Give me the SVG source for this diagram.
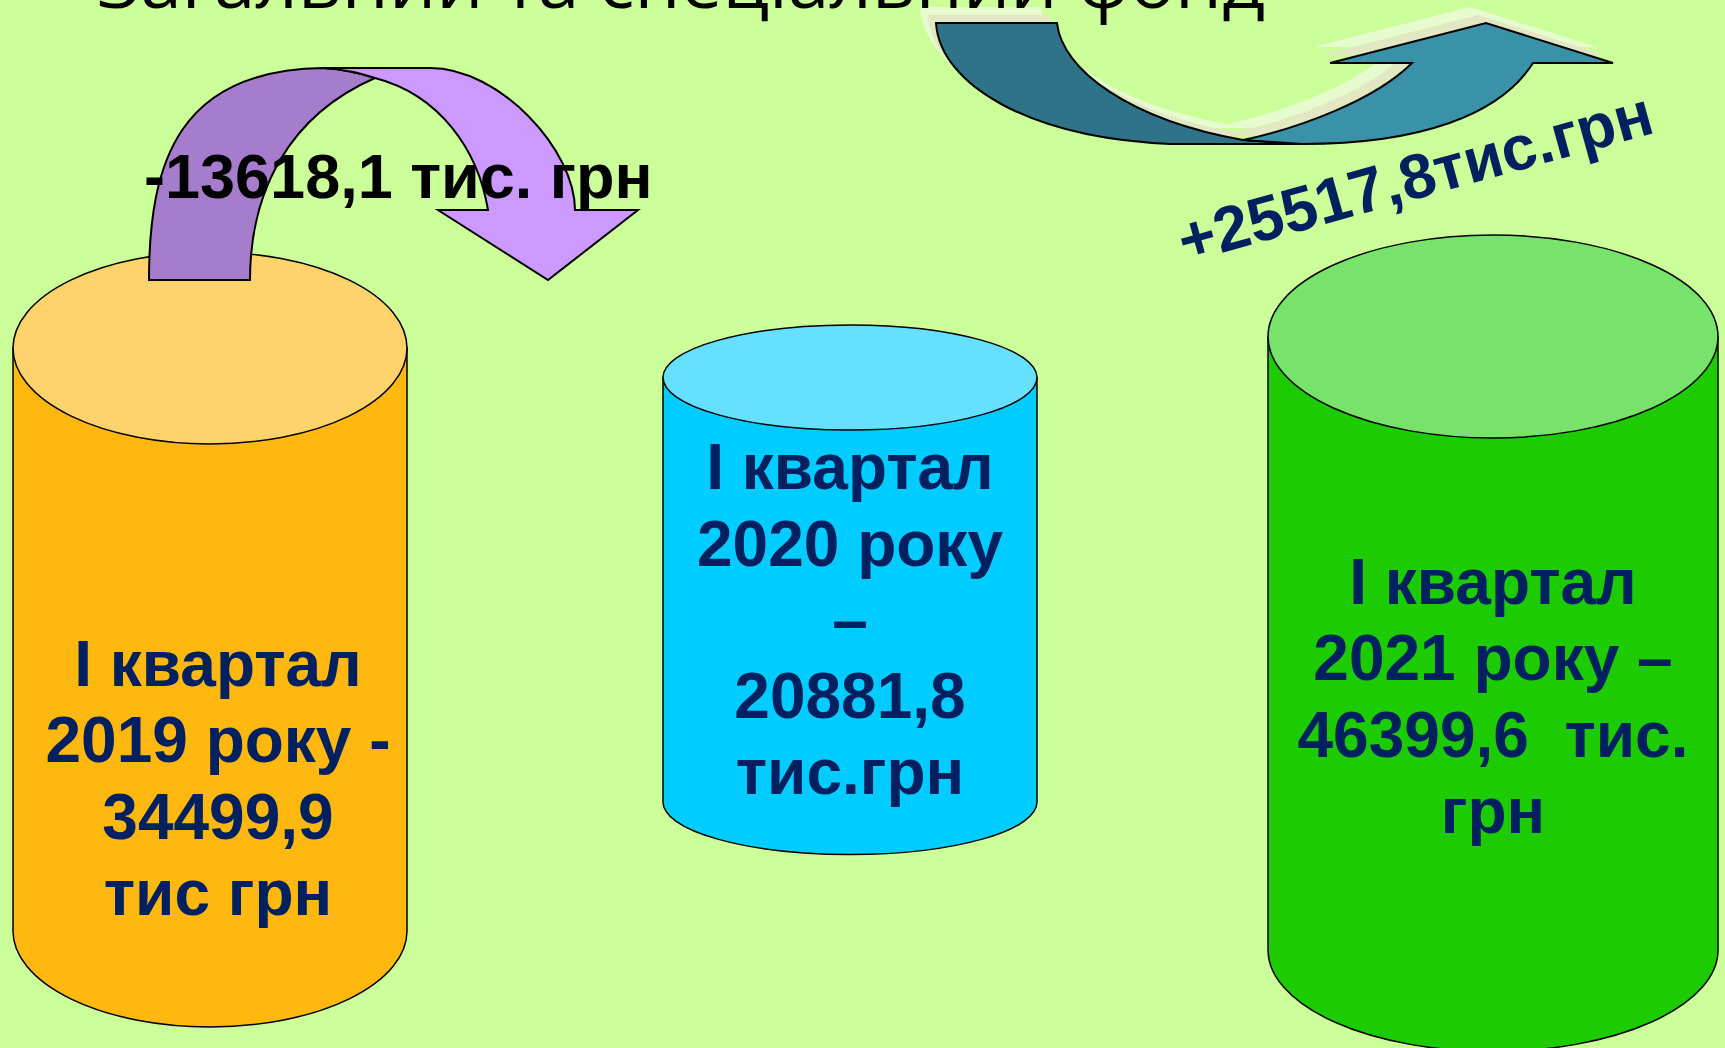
<svg xmlns="http://www.w3.org/2000/svg" width="1725" height="1048" viewBox="0 0 1725 1048">
<style>
.cyl{stroke:#000;stroke-width:1.5}
.arr{stroke:#000;stroke-width:2;stroke-linejoin:miter}
.lbl{font-family:"Liberation Sans",Arial,sans-serif;font-weight:bold;font-size:64px;fill:#002060;text-anchor:middle;white-space:pre}
.title{font-family:"Open Sans","Noto Sans",sans-serif;font-size:72px;fill:#000}
.delta{font-family:"Liberation Sans",Arial,sans-serif;font-weight:bold;font-size:63px}
</style>
<defs>
<path id="tealBack" d="M936,23 L1057,23 C1062,70 1130,120 1243,140 L1302,144 L1170,144 C1030,138 940,85 936,23 Z"/>
<path id="tealFront" d="M1243,140 C1300,128 1375,100 1412,63 L1330,63 L1486,23 L1613,63 L1533,63 C1500,115 1420,144 1302,144 Z"/>
</defs>
<rect width="1725" height="1048" fill="#CCFF99"/>

<g id="node-2019">
<path class="cyl" fill="#FFB80F" d="M13,348 L13,931 A197,96 0 0 0 407,931 L407,348 Z"/>
<ellipse class="cyl" fill="#FFD36B" cx="210" cy="348" rx="197" ry="96"/>
<text class="lbl" x="218" y="686">І квартал</text>
<text class="lbl" x="218" y="762">2019 року -</text>
<text class="lbl" x="218" y="839">34499,9</text>
<text class="lbl" x="218" y="915">тис грн</text>
</g>

<g id="node-2020">
<path class="cyl" fill="#00CCFF" d="M663,377.5 L663,802 A187,52.5 0 0 0 1037,802 L1037,377.5 Z"/>
<ellipse class="cyl" fill="#66E0FF" cx="850" cy="377.5" rx="187" ry="52.5"/>
<text class="lbl" x="850" y="489">І квартал</text>
<text class="lbl" x="850" y="566">2020 року</text>
<text class="lbl" x="850" y="642">–</text>
<text class="lbl" x="850" y="718">20881,8</text>
<text class="lbl" x="850" y="794">тис.грн</text>
</g>

<g id="node-2021">
<path class="cyl" fill="#1CCC00" d="M1268,336.5 L1268,950 A225,101.5 0 0 0 1718,950 L1718,336.5 Z"/>
<ellipse class="cyl" fill="#77E36B" cx="1493" cy="336.5" rx="225" ry="101.5"/>
<text class="lbl" x="1493" y="604">І квартал</text>
<text class="lbl" x="1493" y="680">2021 року –</text>
<text class="lbl" x="1493" y="757">46399,6  тис.</text>
<text class="lbl" x="1493" y="833">грн</text>
</g>

<g id="connectors">
<g id="arrow-decrease">
<path class="arr" fill="#A57DCC" d="M149,280 C149,160 180,70 323,68 Q352,70 375,78 C290,115 250,190 250,280 Z"/>
<path class="arr" fill="#CC99FF" d="M323,68 L430,68 C500,68 575,150 575,210 L638,210 L548,280 L438,210 L488,210 C478,150 440,95 375,78 Q352,70 323,68 Z"/>
</g>
<g id="arrow-increase">
<g fill="#E6FCCF" transform="translate(-16,-16)"><use href="#tealBack"/><use href="#tealFront"/></g>
<g fill="#E1E8C3" transform="translate(-8,-8)"><use href="#tealBack"/><use href="#tealFront"/></g>
<use href="#tealBack" class="arr" fill="#2E7387"/>
<use href="#tealFront" class="arr" fill="#3A92A8"/>
</g>
</g>

<text class="delta" x="144" y="198" fill="#000">-13618,1 тис. грн</text>
<text class="delta" fill="#002060" font-size="64" transform="translate(1185,263) rotate(-15.5)">+25517,8тис.грн</text>
<text class="title" x="97" y="8" textLength="1168" lengthAdjust="spacingAndGlyphs">Загальний та спеціальний фонд</text>
</svg>
